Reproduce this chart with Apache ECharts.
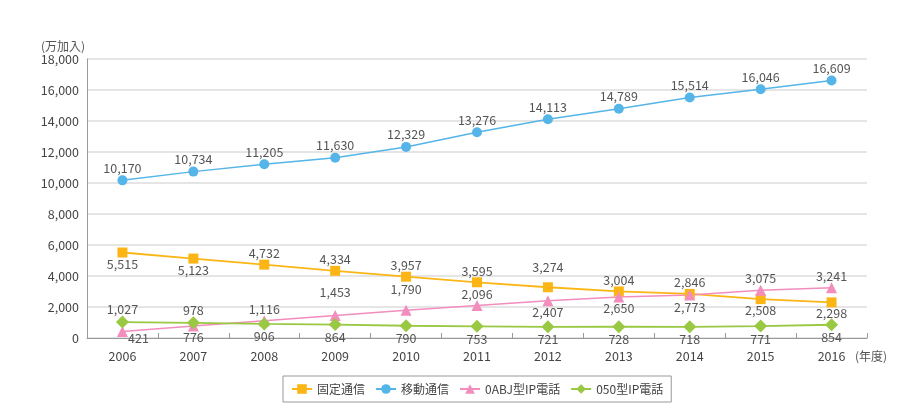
<!DOCTYPE html>
<html><head><meta charset="utf-8">
<script src="https://cdn.jsdelivr.net/npm/echarts@6/dist/echarts.min.js"></script>
<style>html,body{margin:0;padding:0;background:#fff}#c{width:901px;height:409px}</style>
</head><body><div id="c"></div>
<script>
const years = ['2006','2007','2008','2009','2010','2011','2012','2013','2014','2015','2016'];
const fixedLine = [5515,5123,4732,4334,3957,3595,3274,3004,2846,2508,2298];
const mobile = [10170,10734,11205,11630,12329,13276,14113,14789,15514,16046,16609];
const ipOABJ = [421,776,1116,1453,1790,2096,2407,2650,2773,3075,3241];
const ip050 = [1027,978,906,864,790,753,721,728,718,771,854];
const names = ['固定通信','移動通信','0ABJ型IP電話','050型IP電話'];
// label placements (side of the point) and extra shifts for crowded labels
const posFixed = ['bottom','bottom','top','top','top','top','top','top','top','bottom','bottom'];
const posOABJ = ['bottom','bottom','top','top','top','top','bottom','bottom','bottom','top','top'];
const pos050 = ['top','top','bottom','bottom','bottom','bottom','bottom','bottom','bottom','bottom','bottom'];
const shiftFixed = {6:[0,-9]};
const shiftOABJ = {0:[16,-5], 3:[0,-11], 4:[0,-9]};
const font = '"Noto Sans CJK JP","Noto Sans",sans-serif';
const fmt = v => v.toLocaleString('en-US');
function items(vals, pos, dist, shifts){
  return vals.map((v,i)=>{
    const o = {value:v, label:{position:pos?pos[i]:'top', distance:dist}};
    if (shifts && shifts[i]) o.label.offset = shifts[i];
    return o;
  });
}
const lbl = {show:true, color:'#555', fontSize:12.5, fontFamily:font, formatter:p=>fmt(p.value)};
const chart = echarts.init(document.getElementById('c'));
chart.setOption({
  animation:false,
  grid:{left:87, right:34, top:59, bottom:71},
  legend:{
    left:283, top:376, itemGap:10, itemWidth:20, itemHeight:12,
    borderColor:'#999', borderWidth:1, padding:[7,8,7,8], borderRadius:0,
    textStyle:{color:'#444', fontSize:12, fontFamily:font}, data:names
  },
  xAxis:{
    type:'category', data:years, boundaryGap:true,
    name:'(年度)', nameLocation:'end', nameGap:-12,
    nameTextStyle:{color:'#555', fontSize:12, fontFamily:font, verticalAlign:'top', align:'left', padding:[12,0,0,0]},
    axisLine:{lineStyle:{color:'#999'}},
    axisTick:{show:true, inside:true, length:5, lineStyle:{color:'#999'}},
    axisLabel:{color:'#444', fontSize:12.5, fontFamily:font, margin:12}
  },
  yAxis:{
    type:'value', min:0, max:18000, interval:2000,
    name:'(万加入)', nameLocation:'end', nameGap:6,
    nameTextStyle:{color:'#555', fontSize:12, fontFamily:font, align:'right', padding:[0,2,0,0]},
    axisLine:{show:true, lineStyle:{color:'#999'}},
    axisTick:{show:false},
    axisLabel:{color:'#444', fontSize:12.5, fontFamily:font, formatter:v=>fmt(v), margin:8},
    splitLine:{lineStyle:{color:'#dcdcdc', width:1.5}}
  },
  series:[
    {name:names[0], type:'line', data:items(fixedLine,posFixed,0,shiftFixed), symbol:'rect', symbolSize:10,
     itemStyle:{color:'#FBB616'}, lineStyle:{width:1.8,color:'#FBB616'}, label:lbl},
    {name:names[1], type:'line', data:items(mobile,null,1), symbol:'circle', symbolSize:10,
     itemStyle:{color:'#55B5E8'}, lineStyle:{width:1.5,color:'#55B5E8'}, label:lbl},
    {name:names[2], type:'line', data:items(ipOABJ,posOABJ,0,shiftOABJ), symbol:'triangle', symbolSize:11,
     itemStyle:{color:'#F28DBE'}, lineStyle:{width:1.5,color:'#F28DBE'}, label:lbl},
    {name:names[3], type:'line', data:items(ip050,pos050,0), symbol:'diamond', symbolSize:13,
     itemStyle:{color:'#99C842'}, lineStyle:{width:1.8,color:'#99C842'}, label:lbl}
  ]
});
</script></body></html>
